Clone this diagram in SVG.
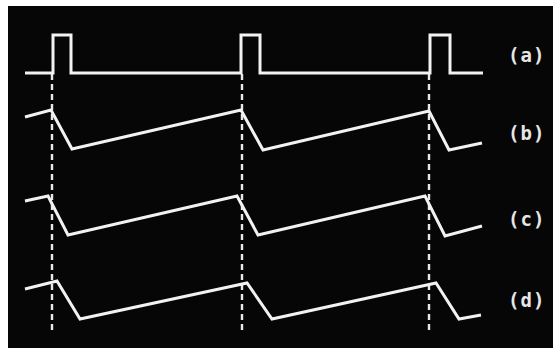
<svg xmlns="http://www.w3.org/2000/svg" width="557" height="352" viewBox="0 0 557 352">
<style>
.tr{fill:none;stroke:#f2f2f2;stroke-width:3;stroke-linejoin:miter}
.dash{stroke:#e8e8e8;stroke-width:2.4;stroke-dasharray:6 4}
.lbl{font-family:"DejaVu Sans Mono",monospace;font-size:19px;font-weight:bold;fill:#e6e6e6;letter-spacing:1px}
</style>
<rect width="557" height="352" fill="#ffffff"/>
<rect x="8" y="6" width="545" height="342" fill="#060606"/>
<g id="connectors">
<line class="dash" x1="52" y1="74" x2="52" y2="330"/>
<line class="dash" x1="242" y1="74" x2="242" y2="330"/>
<line class="dash" x1="429" y1="74" x2="429" y2="330"/>
</g>
<g id="trace-a">
<polyline class="tr" points="25,73 53,73 53,35 71,35 71,73 241,73 241,35 260,35 260,73 430,73 430,35 450,35 450,73 483,73"/>
<text class="lbl" x="508" y="62">(a)</text>
</g>
<g id="trace-b">
<polyline class="tr" points="25,117 51,110 72,149 241,110 263,150 429,111 449,150 482,143"/>
<text class="lbl" x="508" y="140">(b)</text>
</g>
<g id="trace-c">
<polyline class="tr" points="25,201 48,196 68,235 237,196 258,235 425,196 445,236 482,226"/>
<text class="lbl" x="508" y="226">(c)</text>
</g>
<g id="trace-d">
<polyline class="tr" points="25,289 57,281 80,319 247,283 272,319 436,283 459,319 481,315"/>
<text class="lbl" x="508" y="307">(d)</text>
</g>
</svg>
